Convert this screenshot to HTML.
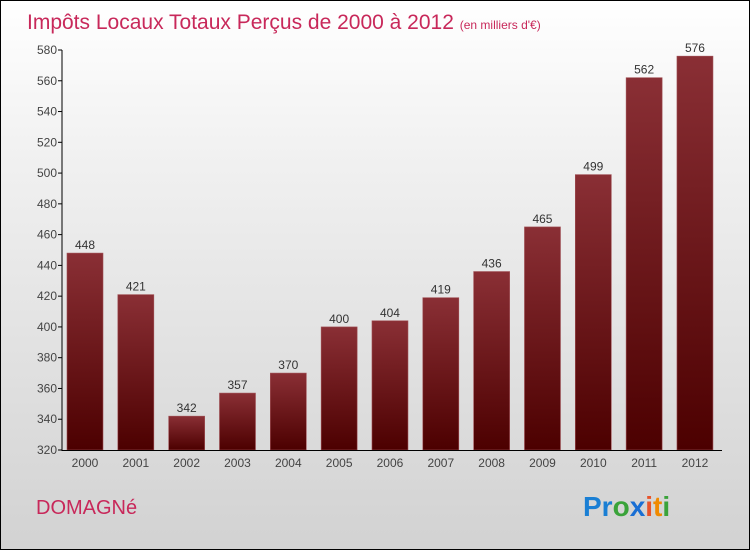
<!DOCTYPE html>
<html><head><meta charset="utf-8"><style>
body{margin:0;width:750px;height:550px;overflow:hidden;font-family:"Liberation Sans",sans-serif}
#c{position:absolute;left:0;top:0;width:748px;height:548px;border:1px solid #000;background:linear-gradient(#ffffff,#f0f0f0 30%,#d2d2d2)}
</style></head><body>
<div id="c">
<svg width="748" height="548" xmlns="http://www.w3.org/2000/svg">
<defs><linearGradient id="bg" x1="0" y1="0" x2="0" y2="1"><stop offset="0" stop-color="#8a2f35"/><stop offset="1" stop-color="#4c0000"/></linearGradient></defs>
<text x="26" y="28" font-size="21" fill="#c8285a">Impôts Locaux Totaux Perçus de 2000 à 2012 <tspan font-size="12">(en milliers d'€)</tspan></text>
<g id="plot"></g>
<text x="35" y="513" font-size="20" fill="#c8285a">DOMAGNé</text>
<g font-size="28" font-weight="bold" font-family="Liberation Sans, sans-serif">
<text x="582" y="515"><tspan fill="#1a7fd4">Pr</tspan><tspan fill="#3aa33a">o</tspan><tspan fill="#1a6fd4">x</tspan><tspan fill="#e8532a">i</tspan><tspan fill="#f08a00">t</tspan><tspan fill="#3aa33a">i</tspan></text>
</g>
</svg></div>
<script>
const years=["2000","2001","2002","2003","2004","2005","2006","2007","2008","2009","2010","2011","2012"];
const values=[448,421,342,357,370,400,404,419,436,465,499,562,576];
const yTicks=[320,340,360,380,400,420,440,460,480,500,520,540,560,580];
const NS="http://www.w3.org/2000/svg";
const g=document.getElementById('plot');
const y0=449,yTop=49,vMin=320,vMax=580;
const y=v=>y0-(v-vMin)*(y0-yTop)/(vMax-vMin);
const x=i=>84+i*50.83;
function el(t,a){const e=document.createElementNS(NS,t);for(const k in a)e.setAttribute(k,a[k]);g.appendChild(e);return e;}
yTicks.forEach(t=>{
 const l=el('line',{x1:57,x2:61,y1:y(t),y2:y(t),stroke:'#000'});
 
 
 const tx=el('text',{x:56,y:y(t)+4,'font-size':12,fill:'#444','text-anchor':'end'});
 tx.textContent=t;
 
 
});
values.forEach((v,i)=>{
 const r=el('rect',{x:x(i)-18,y:y(v),width:36,height:y0-y(v),fill:'url(#bg)',stroke:'#a05055','stroke-width':0.6});
 
 
 const t=el('text',{x:x(i),y:y(v)-4,'font-size':12,fill:'#333','text-anchor':'middle'});
 t.textContent=v;
 
 
 const yl=el('text',{x:x(i),y:466,'font-size':12,fill:'#444','text-anchor':'middle'});
 yl.textContent=years[i];
 
 
});
const ya=el('line',{x1:61,x2:61,y1:yTop,y2:y0+1,stroke:'#000'});


const xa=el('line',{x1:61,x2:721,y1:y0+0.5,y2:y0+0.5,stroke:'#000'});


</script>
</body></html>
